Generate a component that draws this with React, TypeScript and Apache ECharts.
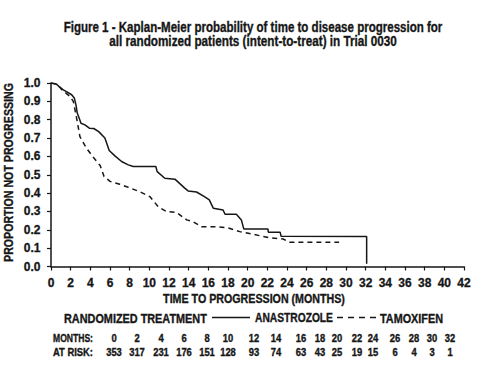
import React, { useEffect, useRef } from "react";
import * as echarts from "echarts";

// Kaplan-Meier curves: [month, proportion not progressing]
const anastrozole: [number, number][] = [
  [0, 1.0], [0.55, 0.994], [0.9, 0.977], [1.25, 0.963], [1.75, 0.948], [2.1, 0.936],
  [2.37, 0.918], [2.54, 0.881], [2.67, 0.836], [2.87, 0.808], [3.05, 0.781],
  [3.45, 0.772], [3.9, 0.754], [4.35, 0.752], [4.85, 0.735], [5.48, 0.7],
  [5.92, 0.632], [6.5, 0.603], [7.18, 0.572], [7.8, 0.555], [8.36, 0.545],
  [10.66, 0.545], [10.8, 0.517], [11.57, 0.481], [12.6, 0.476], [13.6, 0.427],
  [13.94, 0.412], [14.8, 0.406], [15.6, 0.381], [16.1, 0.363], [16.5, 0.318],
  [17.5, 0.308], [17.7, 0.285], [18.85, 0.285], [19.36, 0.254], [19.6, 0.205],
  [22.06, 0.205], [22.1, 0.187], [23.3, 0.187], [23.4, 0.165], [32.1, 0.163],
  [32.1, 0.015],
];

const tamoxifen: [number, number][] = [
  [0, 1.0], [0.55, 0.994], [0.9, 0.977], [1.1, 0.963], [1.9, 0.928], [2.27, 0.9],
  [2.6, 0.81], [2.94, 0.708], [3.6, 0.645], [4.3, 0.595], [5.0, 0.55], [5.4, 0.49],
  [6.0, 0.464], [7.0, 0.448], [7.7, 0.435], [9.0, 0.408], [10.05, 0.381],
  [10.9, 0.326], [11.75, 0.299], [12.76, 0.295], [13.8, 0.254], [14.45, 0.244],
  [15.3, 0.217], [16.8, 0.217], [18.0, 0.21], [19.2, 0.19], [20.5, 0.176],
  [22.2, 0.157], [23.6, 0.15], [24.3, 0.132], [29.3, 0.132],
];

const seriesNames = ["ANASTROZOLE", "TAMOXIFEN"];
const legendLead = "RANDOMIZED TREATMENT";

const titleLines = [
  "Figure 1 - Kaplan-Meier probability of time to disease progression for",
  "all randomized patients (intent-to-treat) in Trial 0030",
];
const xAxisName = "TIME TO PROGRESSION (MONTHS)";
const yAxisName = "PROPORTION NOT PROGRESSING";

const riskRowLabels = ["MONTHS:", "AT RISK:"];
const riskMonths = [0, 2, 4, 6, 8, 10, 12, 14, 16, 18, 20, 22, 24, 26, 28, 30, 32];
const atRisk = [353, 317, 231, 176, 151, 128, 93, 74, 63, 43, 25, 19, 15, 6, 4, 3, 1];

// layout: pixel centres of the at-risk table columns
const riskColumnX = [114, 137, 161, 184, 207, 228, 254, 276, 301, 320, 337, 357, 373, 395, 414, 432, 450];

const FONT = '"Liberation Sans", Arial, Helvetica, sans-serif';
const INK = "#161616";

let measureCtx: CanvasRenderingContext2D | null = null;
function measure(text: string, size: number): number {
  if (!measureCtx) measureCtx = document.createElement("canvas").getContext("2d");
  if (!measureCtx) return text.length * size * 0.6;
  measureCtx.font = `bold ${size}px ${FONT}`;
  return measureCtx.measureText(text).width;
}

// condensed bold text fitted to a target width
function fitText(text: string, x: number, y: number, size: number, width: number, align: "left" | "center" = "left", extra: any = {}) {
  const w = measure(text, size);
  return {
    type: "text",
    x,
    y,
    scaleX: width / w,
    ...extra,
    style: {
      text,
      fontFamily: FONT,
      fontWeight: "bold",
      fontSize: size,
      fill: INK,
      stroke: INK,
      lineWidth: 0.35,
      align,
      verticalAlign: "middle",
    },
  };
}

export default function App() {
  const ref = useRef<HTMLDivElement>(null);

  useEffect(() => {
    document.body.style.margin = "0";
    if (!ref.current) return;
    const chart = echarts.init(ref.current, undefined, { renderer: "svg" });

    const graphics: any[] = [];

    // title
    graphics.push(fitText(titleLines[0], 253, 27.5, 14.5, 379, "center"));
    graphics.push(fitText(titleLines[1], 253, 41, 14.5, 288, "center"));

    // axis names
    graphics.push(fitText(xAxisName, 254, 298.5, 12.5, 182, "center"));
    graphics.push(fitText(yAxisName, 8.5, 172.5, 12.5, 179, "center", { rotation: Math.PI / 2 }));

    // legend row
    const legendY = 318;
    graphics.push(fitText(legendLead, 64, legendY, 12.5, 143));
    graphics.push({ type: "line", shape: { x1: 212, y1: legendY - 0.5, x2: 250, y2: legendY - 0.5 }, style: { stroke: INK, lineWidth: 1.5 } });
    graphics.push(fitText(seriesNames[0], 255, legendY, 12.5, 78));
    graphics.push({ type: "line", shape: { x1: 337, y1: legendY - 0.5, x2: 377, y2: legendY - 0.5 }, style: { stroke: INK, lineWidth: 1.5, lineDash: [6, 5] } });
    graphics.push(fitText(seriesNames[1], 380, legendY, 12.5, 63));

    // at-risk table
    const rowY = [338, 352];
    const numScale = 40 / measure(riskRowLabels[1], 10.5);
    graphics.push(fitText(riskRowLabels[0], 53, rowY[0], 10.5, 40));
    graphics.push(fitText(riskRowLabels[1], 53, rowY[1], 10.5, 40));
    riskMonths.forEach((m, i) => {
      const t1 = String(m);
      const t2 = String(atRisk[i]);
      graphics.push(fitText(t1, riskColumnX[i], rowY[0], 10.5, measure(t1, 10.5) * numScale, "center"));
      graphics.push(fitText(t2, riskColumnX[i], rowY[1], 10.5, measure(t2, 10.5) * numScale, "center"));
    });

    const axisLabelStyle = {
      fontFamily: FONT, fontWeight: "bold", fontSize: 12, color: INK, margin: 7,
      textBorderColor: INK, textBorderWidth: 0.3,
    };

    chart.setOption({
      animation: false,
      backgroundColor: "#ffffff",
      grid: { left: 51, right: 16, top: 83, bottom: 105.5, containLabel: false, outerBoundsMode: "none" },
      xAxis: {
        type: "value",
        min: 0,
        max: 42,
        interval: 2,
        offset: 3,
        axisLine: { show: true, lineStyle: { color: INK, width: 1.5 } },
        axisTick: { show: true, length: 4, lineStyle: { color: INK, width: 1.2 } },
        axisLabel: { ...axisLabelStyle },
        splitLine: { show: false },
      },
      yAxis: {
        type: "value",
        min: 0,
        max: 1,
        interval: 0.1,
        offset: 3.5,
        axisLine: { show: true, lineStyle: { color: INK, width: 1.5 } },
        axisTick: { show: true, length: 4, lineStyle: { color: INK, width: 1.2 } },
        axisLabel: { ...axisLabelStyle, formatter: (v: number) => v.toFixed(1) },
        splitLine: { show: false },
      },
      series: [
        {
          name: seriesNames[0],
          type: "line",
          data: anastrozole,
          showSymbol: false,
          symbol: "none",
          lineStyle: { color: INK, width: 1.5 },
          z: 3,
        },
        {
          name: seriesNames[1],
          type: "line",
          data: tamoxifen,
          showSymbol: false,
          symbol: "none",
          lineStyle: { color: INK, width: 1.5, type: [5, 4] },
          z: 2,
        },
      ],
      graphic: graphics,
    });

    return () => chart.dispose();
  }, []);

  return <div ref={ref} style={{ width: 480, height: 372 }} />;
}
